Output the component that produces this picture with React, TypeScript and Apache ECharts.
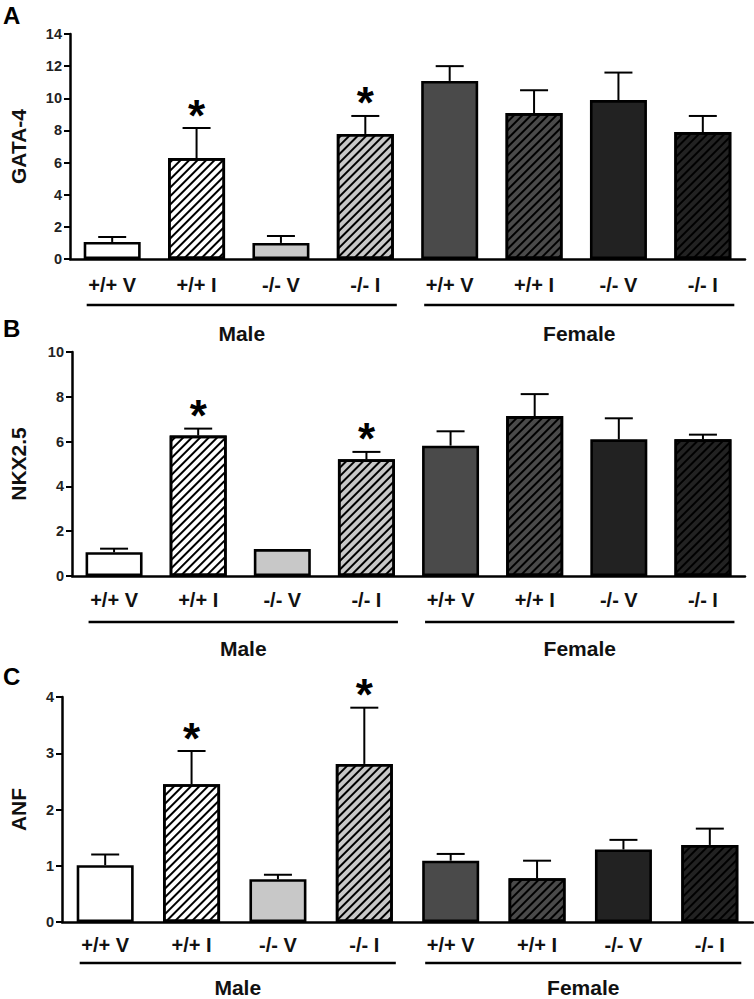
import React, { useEffect, useRef } from "react";
import * as echarts from "echarts";

const categories = ["+/+ V", "+/+ I", "-/- V", "-/- I", "+/+ V", "+/+ I", "-/- V", "-/- I"];
const groups = ["Male", "Female"];
const groupSpans = [[0, 3], [4, 7]];

const gata4Mean = [1.06, 6.28, 1.0, 7.78, 11.08, 9.08, 9.89, 7.9];
const gata4Sem = [0.31, 1.87, 0.43, 1.12, 0.92, 1.42, 1.71, 1.0];
const gata4Sig = [0, 1, 0, 1, 0, 0, 0, 0];

const nkxMean = [1.06, 6.27, 1.2, 5.21, 5.82, 7.14, 6.1, 6.1];
const nkxSem = [0.16, 0.31, 0, 0.33, 0.64, 0.98, 0.94, 0.21];
const nkxSig = [0, 1, 0, 1, 0, 0, 0, 0];

const anfMean = [1.01, 2.45, 0.76, 2.81, 1.09, 0.78, 1.29, 1.37];
const anfSem = [0.19, 0.59, 0.08, 1.0, 0.12, 0.31, 0.17, 0.29];
const anfSig = [0, 1, 0, 1, 0, 0, 0, 0];

const fills = ["#ffffff", "#ffffff", "#c8c8c8", "#c8c8c8", "#4a4a4a", "#4a4a4a", "#222222", "#222222"];
const hatched = [false, true, false, true, false, true, false, true];

const panels = [
  { letter: "A", name: "GATA-4", mean: gata4Mean, sem: gata4Sem, sig: gata4Sig, max: 14, interval: 2 },
  { letter: "B", name: "NKX2.5", mean: nkxMean, sem: nkxSem, sig: nkxSig, max: 10, interval: 2 },
  { letter: "C", name: "ANF", mean: anfMean, sem: anfSem, sig: anfSig, max: 4, interval: 1 },
];

const FONT = "'Liberation Sans', Arial, sans-serif";

const grids = [
  { left: 61, top: 34, width: 684, height: 225 },
  { left: 61, top: 352, width: 684, height: 224 },
  { left: 52, top: 697, width: 701, height: 225 },
];
const nameGaps = [41, 43, 33];
const labelMargins = [16, 14, 13];
const groupLineOffset = [46, 46, 41];
const groupTextOffset = [74, 72, 65];
const letterTops = [3, 316, 664];

const BAR_W = 57;

export default function App() {
  const ref = useRef<HTMLDivElement>(null);
  useEffect(() => {
    if (!ref.current) return;
    const chart = echarts.init(ref.current, undefined, { renderer: "svg" });
    const decal = {
      symbol: "rect",
      symbolSize: 1,
      color: "#000",
      dashArrayX: [1, 0],
      dashArrayY: [1.6, 3.8],
      rotation: -Math.PI / 4,
    };
    const series: any[] = [];
    panels.forEach((p, i) => {
      series.push({
        type: "bar",
        xAxisIndex: i,
        yAxisIndex: i,
        barWidth: BAR_W,
        data: p.mean.map((v, k) => ({
          value: v,
          itemStyle: {
            color: fills[k],
            borderColor: "#000",
            borderWidth: 2.6,
            decal: hatched[k] ? decal : undefined,
          },
        })),
        z: 2,
      });
      series.push({
        type: "custom",
        xAxisIndex: i,
        yAxisIndex: i,
        data: p.mean.map((v, k) => [k, v, p.sem[k], p.sig[k]]),
        z: 3,
        renderItem: (params: any, api: any) => {
          const k = api.value(0);
          const m = api.value(1);
          const s = api.value(2);
          const sg = api.value(3);
          const base = api.coord([k, m]);
          const top = api.coord([k, m + s]);
          const children: any[] = [];
          if (s > 0) {
            children.push({
              type: "line",
              shape: { x1: base[0], y1: base[1], x2: top[0], y2: top[1] },
              style: { stroke: "#000", lineWidth: 2 },
            });
            children.push({
              type: "line",
              shape: { x1: top[0] - 14, y1: top[1], x2: top[0] + 14, y2: top[1] },
              style: { stroke: "#000", lineWidth: 2 },
            });
          }
          if (sg) {
            children.push({
              type: "text",
              x: top[0],
              y: top[1] - 24 + 11,
              style: {
                text: "*",
                font: `bold 44px ${FONT}`,
                fill: "#000",
                align: "center",
                verticalAlign: "middle",
              },
            });
          }
          return { type: "group", children };
        },
      });
    });

    const option: any = {
      animation: false,
      grid: grids,
      xAxis: panels.map((p, i) => ({
        type: "category",
        gridIndex: i,
        data: categories,
        axisLine: { show: true, lineStyle: { color: "#000", width: 2.5 } },
        axisTick: { show: false },
        axisLabel: { fontFamily: FONT, fontWeight: "bold", fontSize: 20, color: "#111", margin: labelMargins[i] },
      })),
      yAxis: panels.map((p, i) => ({
        type: "value",
        gridIndex: i,
        min: 0,
        max: p.max,
        interval: p.interval,
        name: p.name,
        nameLocation: "middle",
        nameGap: nameGaps[i],
        nameTextStyle: { fontFamily: FONT, fontWeight: "bold", fontSize: 21, color: "#111" },
        axisLine: { show: true, lineStyle: { color: "#000", width: 2.5 } },
        axisTick: { show: true, length: 6, lineStyle: { color: "#000", width: 2 } },
        splitLine: { show: false },
        axisLabel: { fontFamily: FONT, fontWeight: "bold", fontSize: 14.5, color: "#222", margin: 8 },
      })),
      series,
    };
    chart.setOption(option);

    const graphic: any[] = [];
    panels.forEach((p, i) => {
      graphic.push({
        type: "text",
        left: 3,
        top: letterTops[i],
        style: { text: p.letter, font: `bold 24px ${FONT}`, fill: "#000" },
      });
      const y0 = chart.convertToPixel({ yAxisIndex: i }, 0) as number;
      groupSpans.forEach((span, g) => {
        const xa = chart.convertToPixel({ xAxisIndex: i }, span[0]) as number;
        const xb = chart.convertToPixel({ xAxisIndex: i }, span[1]) as number;
        const x1 = xa - BAR_W / 2 + 3;
        const x2 = xb + BAR_W / 2 + 3;
        const ly = y0 + groupLineOffset[i];
        graphic.push({
          type: "line",
          shape: { x1, y1: ly, x2, y2: ly },
          style: { stroke: "#000", lineWidth: 2.5 },
        });
        graphic.push({
          type: "text",
          x: (x1 + x2) / 2,
          y: y0 + groupTextOffset[i],
          style: {
            text: groups[g],
            font: `bold 21px ${FONT}`,
            fill: "#111",
            align: "center",
            verticalAlign: "middle",
          },
        });
      });
    });
    chart.setOption({ graphic });

    return () => chart.dispose();
  }, []);
  return (
    <div
      ref={ref}
      style={{ position: "absolute", left: 0, top: 0, width: 754, height: 999, background: "#fff" }}
    />
  );
}
